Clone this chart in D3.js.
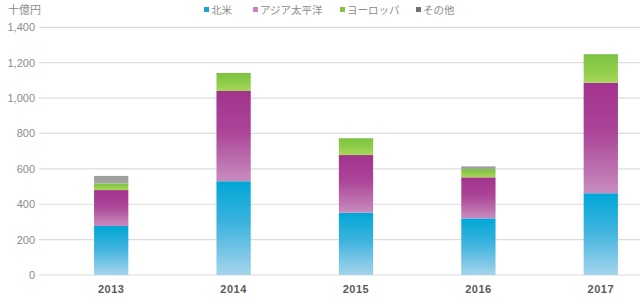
<!DOCTYPE html>
<html>
<head>
<meta charset="utf-8">
<script src="https://cdn.jsdelivr.net/npm/d3@7"></script>
<style>
  body { margin: 0; background: #fff; }
  svg { font-family: "Noto Sans CJK JP", "Noto Sans", sans-serif; }
</style>
</head>
<body>
<div id="chart"></div>
<script>
const years = ['2013', '2014', '2015', '2016', '2017'];
const northAmerica = [277, 530, 352, 320, 462];
const asiaPacific = [203, 510, 326, 232, 625];
const europe = [38, 102, 95, 47, 161];
const other = [42, 0, 0, 15, 0];
const seriesNames = ['北米', 'アジア太平洋', 'ヨーロッパ', 'その他'];
const yTicks = [0, 200, 400, 600, 800, 1000, 1200, 1400];

const width = 640;
const height = 304;

// colours per series: stops [top, middle, bottom] of each segment gradient
const fills = [
  ['#00a7d6', '#3db3de', '#a5d4ec'],
  ['#a2338d', '#ab4598', '#c88cbf'],
  ['#7cc242', '#8ccb48', '#a8d65a'],
  ['#9c9c9c', '#a0a0a0', '#a8a8a8'],
];
const legendColors = ['#1aa3d5', '#d07fc0', '#86c440', '#707070'];

const svg = d3.select('#chart')
  .append('svg')
  .attr('width', width)
  .attr('height', height);

const defs = svg.append('defs');
fills.forEach((c, i) => {
  const g = defs.append('linearGradient')
    .attr('id', 'grad' + i)
    .attr('x1', 0).attr('y1', 0)
    .attr('x2', 0).attr('y2', 1);
  g.append('stop').attr('offset', '0%').attr('stop-color', c[0]);
  g.append('stop').attr('offset', '45%').attr('stop-color', c[1]);
  g.append('stop').attr('offset', '100%').attr('stop-color', c[2]);
});

const y = d3.scaleLinear().domain([0, 1400]).range([275, 27.3]);
const x = d3.scaleBand()
  .domain(years)
  .range([50, 662])
  .paddingInner(0.72)
  .paddingOuter(0.36);

// gridlines
svg.append('g')
  .selectAll('line')
  .data(yTicks)
  .enter()
  .append('line')
  .attr('x1', 39)
  .attr('x2', width)
  .attr('y1', (d) => y(d))
  .attr('y2', (d) => y(d))
  .attr('stroke', '#dcdcdc')
  .attr('stroke-width', 1.2);

// y labels
const yAxis = svg.append('g')
  .attr('transform', 'translate(39,0)')
  .call(d3.axisLeft(y).tickValues(yTicks).tickSize(0).tickPadding(4)
    .tickFormat(d3.format(',')));
yAxis.select('.domain').remove();
yAxis.selectAll('text')
  .attr('fill', '#8c8c8c')
  .style('font-family', '"Liberation Sans", sans-serif')
  .style('font-size', '11px');

// stacked bars
const rows = years.map((yr, i) => ({
  year: yr,
  s0: northAmerica[i],
  s1: asiaPacific[i],
  s2: europe[i],
  s3: other[i],
}));
const stack = d3.stack().keys(['s0', 's1', 's2', 's3'])(rows);

stack.forEach((layer, i) => {
  svg.append('g')
    .selectAll('rect')
    .data(layer.filter((d) => d[1] - d[0] > 0))
    .enter()
    .append('rect')
    .attr('x', (d) => x(d.data.year))
    .attr('width', x.bandwidth())
    .attr('y', (d) => y(d[1]))
    .attr('height', (d) => y(d[0]) - y(d[1]))
    .attr('fill', `url(#grad${i})`);
});

// x labels
svg.append('g')
  .selectAll('text')
  .data(years)
  .enter()
  .append('text')
  .attr('x', (d) => x(d) + x.bandwidth() / 2)
  .attr('y', 293)
  .attr('text-anchor', 'middle')
  .attr('fill', '#5a5a5a')
  .style('font-family', '"Liberation Sans", sans-serif')
  .style('font-weight', 'bold')
  .style('font-size', '11px')
  .style('letter-spacing', '0.5px')
  .text((d) => d);

// unit label
svg.append('text')
  .attr('x', 8)
  .attr('y', 14)
  .attr('fill', '#8c8c8c')
  .style('font-size', '11px')
  .text('十億円');

// legend
const legendX = [204, 253, 340, 416];
const legend = svg.append('g');
seriesNames.forEach((name, i) => {
  legend.append('rect')
    .attr('x', legendX[i])
    .attr('y', 7)
    .attr('width', 5)
    .attr('height', 5)
    .attr('fill', legendColors[i]);
  legend.append('text')
    .attr('x', legendX[i] + 7)
    .attr('y', 13.5)
    .attr('fill', '#8c8c8c')
    .style('font-size', '10.5px')
    .text(name);
});
</script>
</body>
</html>
